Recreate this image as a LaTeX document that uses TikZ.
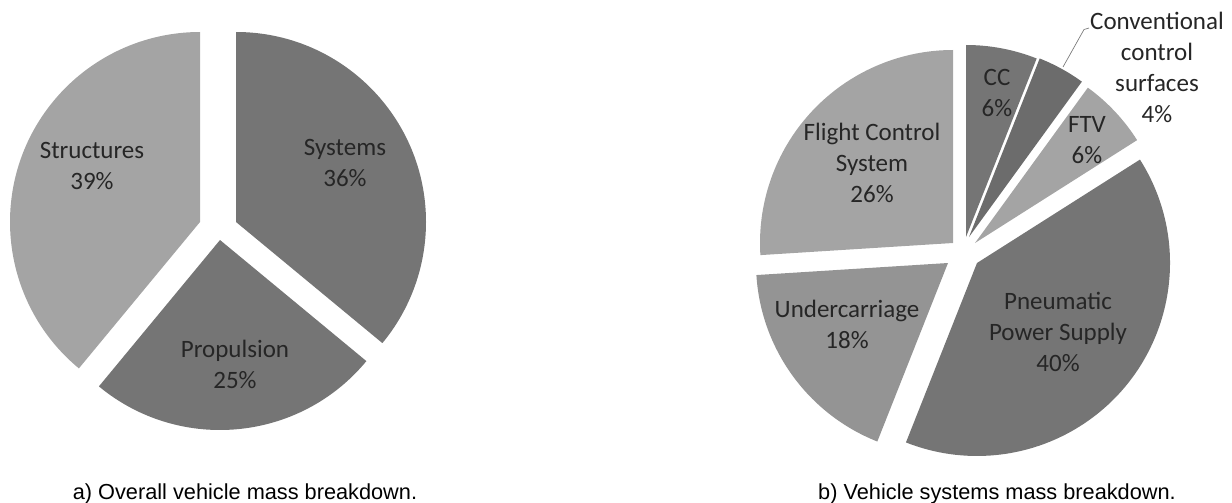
\documentclass[tikz,border=0pt]{standalone}
\usepackage{fontspec}
\setmainfont{Carlito}
\newfontfamily\capfont{Liberation Sans}
\definecolor{slicelight}{RGB}{164,164,164}
\definecolor{slicemid}{RGB}{148,148,148}
\definecolor{slicedark}{RGB}{117,117,117}
\definecolor{slicedeep}{RGB}{108,108,108}
\definecolor{labeltext}{RGB}{38,38,38}
% one exploded slice: tip, start angle, end angle, radius, colour
\newcommand{\pieslice}[5]{\fill[#5] #1 -- ++(#2:#4) arc[start angle=#2, end angle=#3, radius=#4] -- cycle;}
\tikzset{
  slicelabel/.style={align=center, inner sep=0pt, text=labeltext,
    font=\fontsize{18.75pt}{23.25pt}\selectfont},
  caption/.style={anchor=base, inner sep=0pt, font=\capfont\fontsize{16.3pt}{19pt}\selectfont},
  leader/.style={draw={rgb,255:red,120;green,120;blue,120}, line width=0.5pt}
}
\begin{document}
\begin{tikzpicture}[x=0.75pt,y=0.75pt,yscale=-1,xscale=1]
\useasboundingbox (0,0) rectangle (1232,503);

%Pie a) overall vehicle mass
\pieslice{(236,222)}{-90}{39.6}{190}{slicedark}
\pieslice{(220,240)}{39.6}{129.6}{190}{slicedark}
\pieslice{(200,222)}{129.6}{270}{190}{slicelight}

% Text Node
\node[slicelabel] (systems) at (345,163) {Systems\\36\%};
% Text Node
\node[slicelabel] (propulsion) at (235,364) {Propulsion\\25\%};
% Text Node
\node[slicelabel] (structures) at (92,166) {Structures\\39\%};

%Pie b) vehicle systems mass
\pieslice{(966,237)}{-90}{-68.4}{192}{slicedark}
\pieslice{(969,237)}{-68.4}{-54}{192}{slicedeep}
\pieslice{(975,243)}{-54}{-32.4}{192}{slicelight}
\pieslice{(977,263)}{-32.4}{111.6}{193}{slicedark}
\pieslice{(948,263)}{111.6}{176.4}{192}{slicemid}
\pieslice{(953,243)}{176.4}{270}{193}{slicelight}

% Text Node
\node[slicelabel] (cc) at (997,93) {CC\\6\%};
% Text Node
\node[slicelabel] (ccs) at (1157,67.5) {Conventional\\control\\surfaces\\4\%};
% Text Node
\node[slicelabel] (ftv) at (1087,140) {FTV\\6\%};
% Text Node
\node[slicelabel] (pps) at (1058,332) {Pneumatic\\Power Supply\\40\%};
% Text Node
\node[slicelabel] (under) at (847,324) {Undercarriage\\18\%};
% Text Node
\node[slicelabel] (fcs) at (872,162.5) {Flight Control\\System\\26\%};

%Leader line to the outside label
\coordinate (ccsin) at (1063,67);
\coordinate (ccsout) at (1089,28);
\draw[leader] (ccsin) -- (1084,29.5) -- (ccsout);

% Captions
\node[caption] (capa) at (245,499.5) {a) Overall vehicle mass breakdown.};
\node[caption] (capb) at (997,499.5) {b) Vehicle systems mass breakdown.};

\end{tikzpicture}
\end{document}
